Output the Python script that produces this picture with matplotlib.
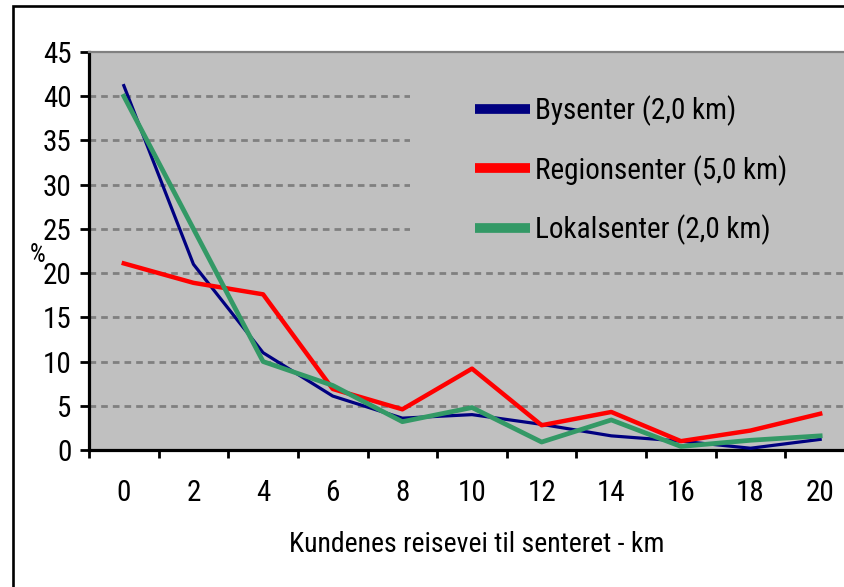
import numpy as np
import matplotlib
matplotlib.use("Agg")
import matplotlib.pyplot as plt
from matplotlib import font_manager
from matplotlib.patches import Rectangle

# ---- data ----
categories = ['0', '2', '4', '6', '8', '10', '12', '14', '16', '18', '20']
bysenter = [41.2, 21.0, 11.0, 6.1, 3.6, 4.0, 2.9, 1.6, 1.0, 0.2, 1.2]
regionsenter = [21.1, 18.9, 17.6, 6.9, 4.6, 9.2, 2.8, 4.3, 1.0, 2.2, 4.1]
lokalsenter = [40.0, 25.0, 10.0, 7.3, 3.2, 4.8, 0.9, 3.4, 0.4, 1.1, 1.6]
series_labels = ['Bysenter (2,0 km)', 'Regionsenter (5,0 km)', 'Lokalsenter (2,0 km)']
yticks = [0, 5, 10, 15, 20, 25, 30, 35, 40, 45]
xlabel = 'Kundenes reisevei til senteret - km'
ylabel = '%'

# ---- font ----
avail = {f.name for f in font_manager.fontManager.ttflist}
fam = 'Liberation Sans'
for cand in ['Liberation Sans Narrow', 'Roboto Condensed', 'Open Sans Condensed',
             'DejaVu Sans Condensed']:
    if cand in avail:
        fam = cand
        break
plt.rcParams['font.family'] = [fam, 'DejaVu Sans']
FS = 21

W, H = 845, 587
fig = plt.figure(figsize=(W / 100, H / 100), dpi=100)
fig.patch.set_facecolor('white')

# outer chart frame
fig.patches.append(Rectangle((13 / W, -0.2), 1.3, 1.2 - 6 / H, transform=fig.transFigure,
                             fill=False, edgecolor='black', linewidth=1.9, zorder=0))

L, R, T, B = 89, 855, 52, 450
ax = fig.add_axes([L / W, 1 - B / H, (R - L) / W, (B - T) / H])
ax.set_facecolor('#C0C0C0')

x = np.arange(len(categories))
ax.plot(x, bysenter, color='#000080', lw=2.3, zorder=3, label=series_labels[0])
ax.plot(x, regionsenter, color='#FF0000', lw=3.2, zorder=3, label=series_labels[1])
ax.plot(x, lokalsenter, color='#339966', lw=3.4, zorder=3, label=series_labels[2])

ax.set_xlim(-0.5, len(categories) - 0.5)
ax.set_ylim(0, 45)
ax.set_yticks(yticks)
ax.set_yticklabels([str(v) for v in yticks], fontsize=FS)
ax.set_xticks(x)
ax.set_xticklabels(categories, fontsize=FS)
ax.set_xticks(np.arange(-0.5, len(categories), 1), minor=True)
ax.tick_params(axis='x', which='major', length=0, pad=21)
ax.tick_params(axis='x', which='minor', length=6, width=2, direction='out', color='black')
ax.tick_params(axis='y', which='major', length=6.5, width=2, direction='out', pad=6)

for v in yticks[1:-1]:
    ax.axhline(v, color='#808080', lw=2, ls=(0, (2.4, 1.8)), zorder=1)

# legend background (covers gridlines)
ax.add_patch(Rectangle(((410 - L) / (R - L), (B - 250) / (B - T)), 1.0, 1.0,
                       transform=ax.transAxes, facecolor='#C0C0C0', edgecolor='none', zorder=2))

for s in ['left', 'bottom']:
    ax.spines[s].set_color('black')
    ax.spines[s].set_linewidth(2.3)
for s in ['top', 'right']:
    ax.spines[s].set_color('#808080')
    ax.spines[s].set_linewidth(1.6)

leg = ax.legend(loc='upper left', bbox_to_anchor=(475 / W, 1 - 95 / H), bbox_transform=fig.transFigure,
                frameon=False, fontsize=FS, handlelength=1.88, handletextpad=0.17,
                labelspacing=1.0, borderaxespad=0, borderpad=0)
for ln in leg.get_lines():
    ln.set_linewidth(7)
    ln.set_solid_capstyle('butt')
leg.set_zorder(5)

fig.text(477 / W, 1 - 544 / H, xlabel, fontsize=20, ha='center', va='center')
fig.text(38 / W, 1 - 255 / H, ylabel, fontsize=FS - 3, ha='center', va='center')

fig.savefig('out.png', dpi=100)
